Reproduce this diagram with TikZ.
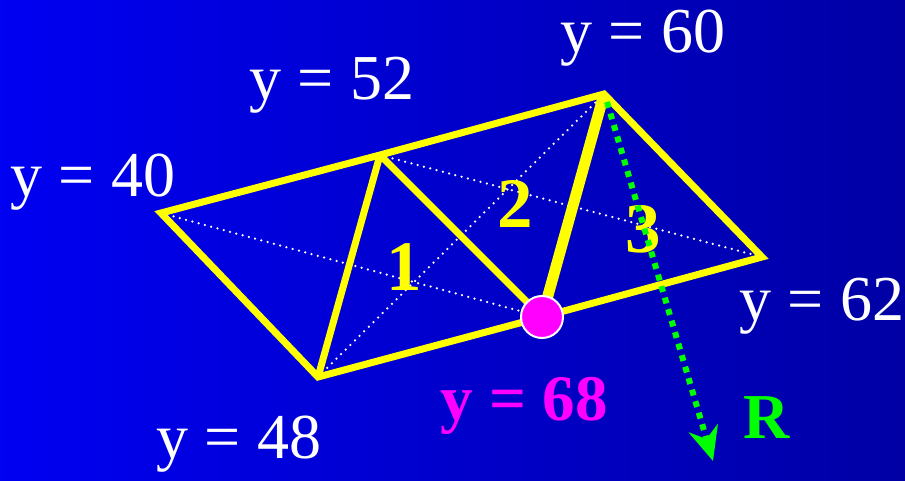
\documentclass[tikz,border=0pt]{standalone}
\usepackage{fontspec}
\setmainfont{Liberation Serif}
\usetikzlibrary{arrows.meta,calc}

\definecolor{bgleft}{RGB}{0,0,242}
\definecolor{bgright}{RGB}{0,0,165}
\definecolor{tyellow}{RGB}{255,255,0}
\definecolor{tmagenta}{RGB}{255,0,255}
\definecolor{tgreen}{RGB}{0,255,0}

\tikzset{
  edge/.style={draw=tyellow, line width=7pt, line join=miter},
  diag/.style={draw=white, line width=2.5pt, line cap=round, dash pattern=on 0pt off 6.5pt},
  ylab/.style={text=white, font=\fontsize{64}{64}\selectfont, inner sep=0pt, anchor=base},
  numlab/.style={text=tyellow, font=\fontsize{71}{71}\selectfont\bfseries, inner sep=0pt, anchor=base}
}

\begin{document}
\begin{tikzpicture}[x=1pt, y=-1pt]
  % background
  \shade[left color=bgleft, right color=bgright] (0,0) rectangle (905,481);
  \useasboundingbox (0,0) rectangle (905,481);
  % vertices
  \coordinate (a) at (161,213);
  \coordinate (b) at (380,155);
  \coordinate (c) at (604,94);
  \coordinate (d) at (762,257);
  \coordinate (e) at (318,377);
  \coordinate (f) at (542,317);
  % dotted diagonals
  \draw[diag] (a) -- (f);
  \draw[diag] (b) -- (d);
  \draw[diag] (e) -- (c);
  % triangle edges
  \draw[edge] (a) -- (b) -- (c) -- (d) -- (f) -- (e) -- cycle;
  \draw[edge] (b) -- (e);
  \draw[edge] (b) -- (f);
  \draw[edge, line width=11pt] (c) -- (f);
  % triangle numbers
  \node[numlab] (n1) at (404,290) {1};
  \node[numlab] (n2) at (515,228) {2};
  \node[numlab] (n3) at (643,253) {3};
  % ray
  \coordinate (r) at (713,461);
  \draw[draw=tgreen, line width=6pt, dash pattern=on 6pt off 6pt,
        -{Stealth[length=34pt, width=30pt, inset=11pt]}] ($(c)+(3,8)$) -- (r);
  \node[text=tgreen, font=\fontsize{64}{64}\selectfont\bfseries, inner sep=0pt, anchor=base] (rlab) at (767,438) {R};
  % current point
  \node[circle, fill=tmagenta, draw=white, line width=2pt, minimum size=42pt, inner sep=0pt] (p) at (f) {};
  % heights
  \node[ylab] (y40) at (93,197) {y = 40};
  \node[ylab] (y52) at (332,100) {y = 52};
  \node[ylab] (y60) at (643,53) {y = 60};
  \node[ylab] (y62) at (822,320) {y = 62};
  \node[ylab] (y48) at (239,458) {y = 48};
  \node[text=tmagenta, font=\fontsize{65}{65}\selectfont\bfseries, inner sep=0pt, anchor=base] (y68) at (524,420) {y = 68};
\end{tikzpicture}
\end{document}
